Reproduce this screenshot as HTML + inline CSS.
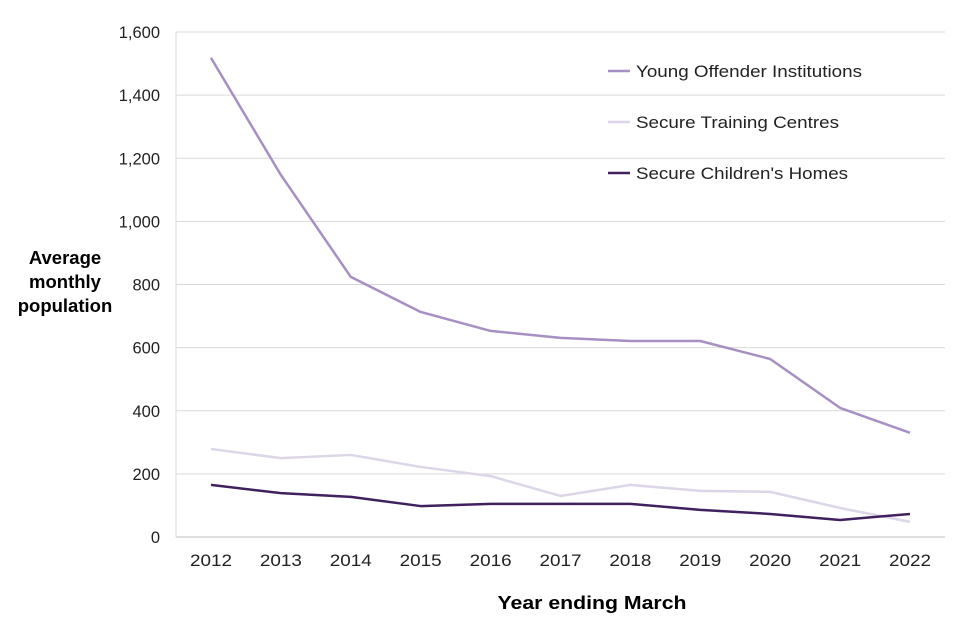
<!DOCTYPE html>
<html><head><meta charset="utf-8"><style>
body{margin:0;background:#fff;}
svg{display:block;font-family:"Liberation Sans",Arial,sans-serif;}
</style></head><body>
<svg id="chart" width="960" height="640" viewBox="0 0 960 640"></svg>
<script>
const years = ["2012","2013","2014","2015","2016","2017","2018","2019","2020","2021","2022"];
const yoiValues = [1518,1147,824,713,653,631,621,621,564,409,330];
const stcValues = [279,250,260,222,193,130,165,146,143,92,48];
const schValues = [165,139,127,98,105,105,105,86,73,54,73];
const yTicks = [0,200,400,600,800,1000,1200,1400,1600];
const yTickLabels = ["0","200","400","600","800","1,000","1,200","1,400","1,600"];
const seriesNames = ["Young Offender Institutions","Secure Training Centres","Secure Children's Homes"];

const NS = "http://www.w3.org/2000/svg";
const svgEl = document.getElementById("chart");
const pLeft = 176, pRight = 945, pTop = 32, pBottom = 537;
const xPos = i => 211 + i * (910 - 211) / (years.length - 1);
const yPos = v => pBottom - v / 1600 * (pBottom - pTop);
function mk(tag, attrs, text) {
  const e = document.createElementNS(NS, tag);
  for (const k in attrs) e.setAttribute(k, attrs[k]);
  if (text !== undefined) e.textContent = text;
  svgEl.appendChild(e);
  return e;
}
yTicks.forEach((t, i) => {
  if (t > 0) {
    const g = mk("line", {x1: pLeft, x2: pRight, y1: yPos(t), y2: yPos(t), stroke: "#d9d9d9", "stroke-width": 1});
    
    
  }
  const l = mk("text", {x: 160, y: yPos(t) + 6, "text-anchor": "end", "font-size": 16.5, fill: "#222"}, yTickLabels[i]);
  
  
});
const ax = mk("line", {x1: pLeft, x2: pRight, y1: pBottom, y2: pBottom, stroke: "#bfbfbf", "stroke-width": 1});


const ayl = mk("line", {x1: pLeft, x2: pLeft, y1: pTop, y2: pBottom, stroke: "#d9d9d9", "stroke-width": 1});


years.forEach((yr, i) => {
  const t = mk("text", {x: xPos(i), y: 566, "text-anchor": "middle", "font-size": 17, fill: "#222", textLength: 42, lengthAdjust: "spacingAndGlyphs"}, yr);
  
  
});
const yt = mk("text", {x: 65, "text-anchor": "middle", "font-size": 18.5, "font-weight": "bold"});


[["Average", 264, 86], ["monthly", 288, 82], ["population", 312, 106]].forEach(([s, yy, w]) => {
  const ts = document.createElementNS(NS, "tspan");
  ts.setAttribute("x", 65); ts.setAttribute("y", yy); ts.textContent = s; yt.appendChild(ts);
});
const xt = mk("text", {x: 592, y: 609, "text-anchor": "middle", "font-size": 18.5, "font-weight": "bold", textLength: 189, lengthAdjust: "spacingAndGlyphs"}, "Year ending March");


const seriesList = [[yoiValues, "#a78fc3", "yoi"], [stcValues, "#dcd6e8", "stc"], [schValues, "#40205f", "sch"]];
seriesList.forEach(([vals, col, key]) => {
  const p = mk("polyline", {points: vals.map((v, i) => xPos(i) + "," + yPos(v)).join(" "), fill: "none", stroke: col, "stroke-width": 2.5, "stroke-linejoin": "round"});
  
  
});
const legendWidths = [226, 203, 212];
seriesList.forEach(([vals, col, key], i) => {
  const ly = 71 + i * 51;
  const ll = mk("line", {x1: 608, x2: 630, y1: ly, y2: ly, stroke: col, "stroke-width": 2.5});
  
  
  const lt = mk("text", {x: 636, y: ly + 6, "font-size": 17, fill: "#222", textLength: legendWidths[i], lengthAdjust: "spacingAndGlyphs"}, seriesNames[i]);
  
  
});
</script>
</body></html>
